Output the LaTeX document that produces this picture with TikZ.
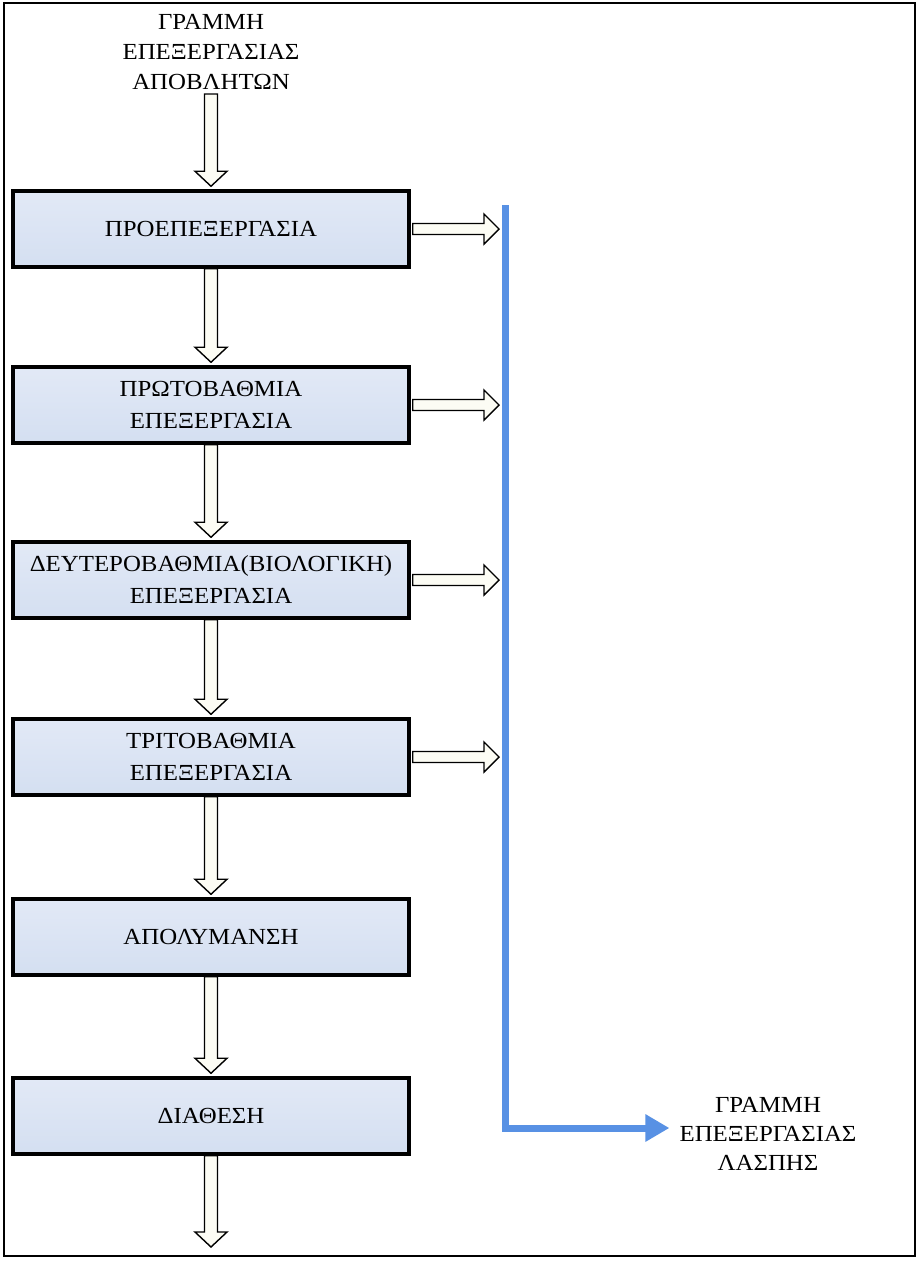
\documentclass[tikz,border=0pt]{standalone}
\usepackage{fontspec}
\setmainfont[FakeStretch=1.08]{Liberation Serif}
\usetikzlibrary{calc,arrows.meta}
\definecolor{boxtop}{RGB}{226,233,246}
\definecolor{boxbot}{RGB}{212,223,241}
\definecolor{sludgeblue}{RGB}{88,145,228}
\definecolor{arrfill}{RGB}{252,252,244}
\newcommand{\varrow}[2]{\draw[blockarr] let \p1=(#1), \p2=(#2) in
  (\x1-6.5pt,\y1) -- (\x1+6.5pt,\y1) -- (\x1+6.5pt,\y2+18pt) -- (\x1+16pt,\y2+18pt)
  -- (\x1,\y2+3pt) -- (\x1-16pt,\y2+18pt) -- (\x1-6.5pt,\y2+18pt) -- cycle;}
\newcommand{\harrow}[2]{\draw[blockarr] let \p1=(#1), \p2=(#2) in
  (\x1+2pt,\y1+5.5pt) -- (\x2-21pt,\y1+5.5pt) -- (\x2-21pt,\y1+15pt) -- (\x2-6pt,\y1)
  -- (\x2-21pt,\y1-15pt) -- (\x2-21pt,\y1-5.5pt) -- (\x1+2pt,\y1-5.5pt) -- cycle;}
\begin{document}
\begin{tikzpicture}[x=1pt,y=1pt,
  every node/.style={inner sep=0pt},
  lbl/.style={align=center,font=\fontsize{23}{30}\selectfont},
  stagebox/.style={draw=black,line width=3.5pt,minimum width=396pt,minimum height=76pt,
    top color=boxtop,bottom color=boxbot,align=center,font=\fontsize{23}{32}\selectfont},
  blockarr/.style={draw=black,line width=1.4pt,fill=arrfill,line join=miter},
  sludgeline/.style={draw=sludgeblue,line width=7pt,line join=miter,
    -{Triangle[length=24pt,width=26pt]}}]
\useasboundingbox (0,0) rectangle (920,-1262);
\fill[white] (0,0) rectangle (920,-1262);
\draw[line width=2pt] (4,-3) rectangle (915,-1256);

\node[lbl] (top) at (211,-52) {ΓΡΑΜΜΗ\\ΕΠΕΞΕΡΓΑΣΙΑΣ\\ΑΠΟΒΛΗΤΩΝ};
\node[stagebox] (b1) at (211,-229) {ΠΡΟΕΠΕΞΕΡΓΑΣΙΑ};
\node[stagebox] (b2) at (211,-405) {ΠΡΩΤΟΒΑΘΜΙΑ\\ΕΠΕΞΕΡΓΑΣΙΑ};
\node[stagebox] (b3) at (211,-580) {ΔΕΥΤΕΡΟΒΑΘΜΙΑ(ΒΙΟΛΟΓΙΚΗ)\\ΕΠΕΞΕΡΓΑΣΙΑ};
\node[stagebox] (b4) at (211,-757) {ΤΡΙΤΟΒΑΘΜΙΑ\\ΕΠΕΞΕΡΓΑΣΙΑ};
\node[stagebox] (b5) at (211,-937) {ΑΠΟΛΥΜΑΝΣΗ};
\node[stagebox] (b6) at (211,-1116) {ΔΙΑΘΕΣΗ};
\node[lbl,font=\fontsize{23}{29}\selectfont] (sludge) at (768,-1134) {ΓΡΑΜΜΗ\\ΕΠΕΞΕΡΓΑΣΙΑΣ\\ΛΑΣΠΗΣ};

\coordinate (st) at (505,-205);
\coordinate (sb) at (505,-1128);
\coordinate (outend) at (211,-1250);

\varrow{211,-94}{b1.north}
\varrow{b1.south}{b2.north}
\varrow{b2.south}{b3.north}
\varrow{b3.south}{b4.north}
\varrow{b4.south}{b5.north}
\varrow{b5.south}{b6.north}
\varrow{b6.south}{outend}

\harrow{b1.east}{st |- b1.east}
\harrow{b2.east}{st |- b2.east}
\harrow{b3.east}{st |- b3.east}
\harrow{b4.east}{st |- b4.east}

\draw[sludgeline] (st) -- (sb) -- ([xshift=-10pt]sludge.west |- sb);
\end{tikzpicture}
\end{document}
